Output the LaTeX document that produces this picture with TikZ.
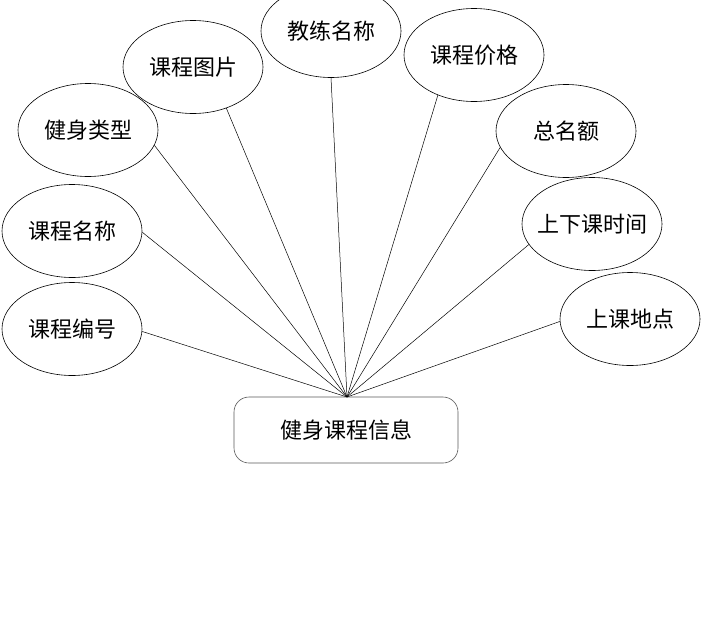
\documentclass[tikz,border=0pt]{standalone}
\usepackage{fontspec}
\newfontfamily\cjk{Noto Sans CJK SC}
\usetikzlibrary{
  positioning,
  shapes.geometric
}
\tikzset{
  attr/.style={draw=black,ellipse,line width=0.6pt,minimum width=140pt,
               minimum height=93pt,inner sep=0pt,font=\cjk\fontsize{22}{26}\selectfont},
  entity/.style={draw=black!65,rounded corners=15pt,line width=0.6pt,minimum width=224pt,
                 minimum height=66pt,font=\cjk\fontsize{22}{26}\selectfont},
  link/.style={draw=black,line width=0.5pt}
}

\begin{document}
\begin{tikzpicture}[x=1pt,y=-1pt]
  \useasboundingbox[fill=white] (0,0) rectangle (714,629);
  % entity
  \node[entity] (course) at (346,430) {健身课程信息};
  \coordinate (hub) at (347,397);
  % attributes, left side
  \node[attr] (bianhao) at (72,329) {课程编号};
  \node[attr] (mingcheng) at (72,231) {课程名称};
  \node[attr] (leixing) at (88,130) {健身类型};
  \node[attr] (tupian) at (193,67) {课程图片};
  \node[attr] (jiaolian) at (331,31) {教练名称};
  % attributes, right side
  \node[attr] (jiage) at (474,55) {课程价格};
  \node[attr] (minge) at (566,131) {总名额};
  \node[attr,inner xsep=-6pt] (shijian) at (592,224) {上下课时间};
  \node[attr] (didian) at (630,319) {上课地点};
  % connectors
  \foreach \a/\ang in {bianhao/-2,mingcheng/-1,leixing/-13,tupian/-51,jiaolian/-90,
                       jiage/228,minge/194,shijian/198,didian/182}
    \draw[link] (\a.\ang) -- (hub);
\end{tikzpicture}
\end{document}
